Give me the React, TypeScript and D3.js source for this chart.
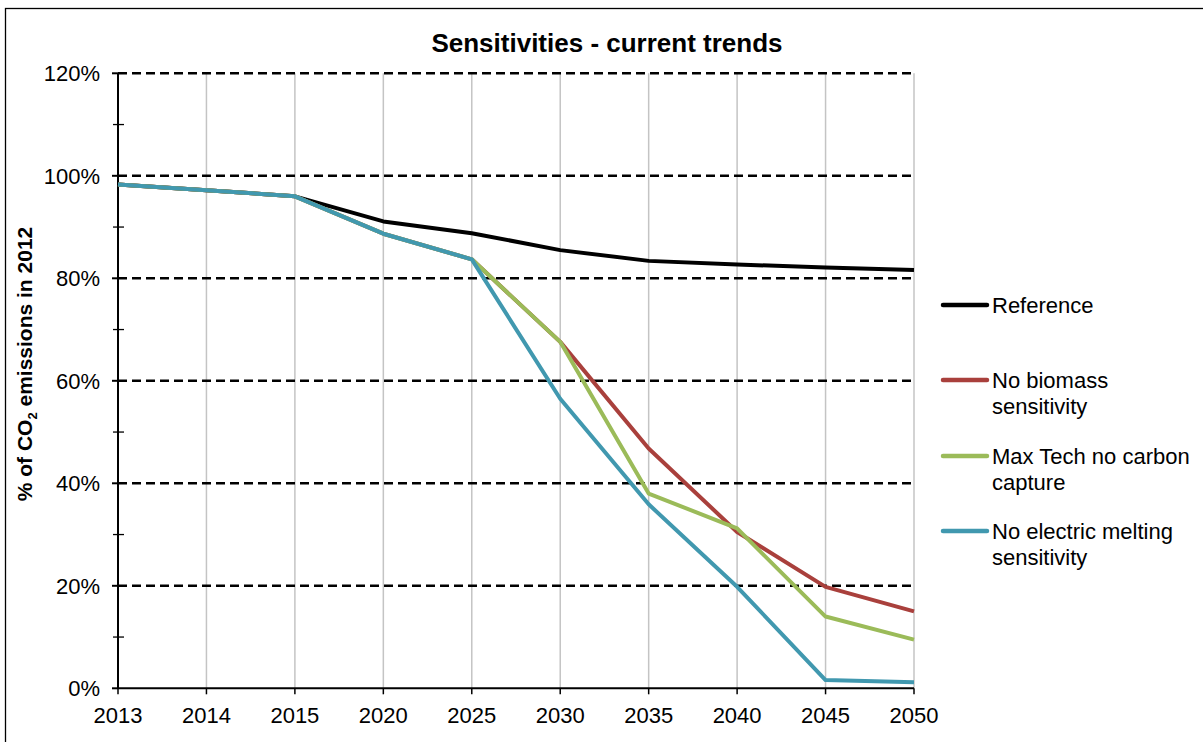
import React from "react";
import * as d3 from "d3";

const categories = ["2013", "2014", "2015", "2020", "2025", "2030", "2035", "2040", "2045", "2050"];
const referenceValues = [98.3, 97.2, 96.0, 91.1, 88.8, 85.5, 83.4, 82.7, 82.1, 81.6];
const noBiomassValues = [98.3, 97.2, 96.0, 88.7, 83.7, 67.6, 46.8, 30.5, 19.8, 15.0];
const maxTechValues = [98.3, 97.2, 96.0, 88.7, 83.7, 67.6, 38.0, 31.2, 14.0, 9.5];
const noElectricValues = [98.3, 97.2, 96.0, 88.7, 83.7, 56.5, 35.9, 19.8, 1.6, 1.2];
const yTicks = [0, 20, 40, 60, 80, 100, 120];
const yMinorTicks = [10, 30, 50, 70, 90, 110];

const series = [
  { name: ["Reference"], values: referenceValues, color: "#000000" },
  { name: ["No biomass", "sensitivity"], values: noBiomassValues, color: "#A9403C" },
  { name: ["Max Tech no carbon", "capture"], values: maxTechValues, color: "#9BBB59" },
  { name: ["No electric melting", "sensitivity"], values: noElectricValues, color: "#4198AF" },
];

const legendY = [305, 380, 456, 531];

export default function App() {
  const W = 1203, H = 742;
  const left = 118, right = 914, top = 73.3, bottom = 688.3;
  const x = d3.scalePoint<string>().domain(categories).range([left, right]).padding(0);
  const y = d3.scaleLinear().domain([0, 120]).range([bottom, top]);
  const font = "Arial, 'Liberation Sans', sans-serif";

  const lineGen = d3
    .line<number>()
    .x((_, i) => x(categories[i]) as number)
    .y((d) => y(d));

  return (
    <svg
      width={W}
      height={H}
      style={{ position: "absolute", left: 0, top: 0, background: "#fff" }}
      fontFamily={font}
    >
      <rect x={0} y={0} width={W} height={H} fill="#fff" />
      <rect x={5.5} y={8.5} width={W + 20} height={H + 20} fill="none" stroke="#000" strokeWidth={1.3} />

      {/* vertical gridlines */}
      {categories.slice(1).map((c) => (
        <line key={"vg" + c} x1={x(c)} x2={x(c)} y1={top} y2={bottom} stroke="#c4c4c4" strokeWidth={1.5} />
      ))}

      {/* horizontal dashed gridlines */}
      {yTicks.slice(1).map((t) => (
        <line
          key={"hg" + t}
          x1={left}
          x2={right}
          y1={y(t)}
          y2={y(t)}
          stroke="#000"
          strokeWidth={2.5}
          strokeDasharray="9,5"
        />
      ))}

      {/* y axis */}
      <line x1={left} x2={left} y1={top} y2={bottom} stroke="#000" strokeWidth={2} />
      {yTicks.map((t) => (
        <g key={"yt" + t}>
          <line x1={left - 6} x2={left} y1={y(t)} y2={y(t)} stroke="#000" strokeWidth={2} />
          <text x={left - 18} y={y(t)} dy="0.35em" textAnchor="end" fontSize={22} fill="#000">
            {t}%
          </text>
        </g>
      ))}
      {yMinorTicks.map((t) => (
        <line key={"ym" + t} x1={left - 5} x2={left + 6} y1={y(t)} y2={y(t)} stroke="#000" strokeWidth={1.3} />
      ))}

      {/* x axis */}
      <line x1={left} x2={right} y1={bottom} y2={bottom} stroke="#000" strokeWidth={2} />
      {categories.map((c) => (
        <g key={"xt" + c}>
          <line x1={x(c)} x2={x(c)} y1={bottom} y2={bottom + 6} stroke="#000" strokeWidth={1.5} />
          <text x={x(c)} y={bottom + 35} textAnchor="middle" fontSize={22} fill="#000">
            {c}
          </text>
        </g>
      ))}

      {/* series lines */}
      {series.map((s) => (
        <path
          key={s.name.join(" ")}
          d={lineGen(s.values) || ""}
          fill="none"
          stroke={s.color}
          strokeWidth={4}
          strokeLinejoin="round"
        />
      ))}

      {/* title */}
      <text x={607} y={52} textAnchor="middle" fontSize={26} fontWeight="bold" fill="#000">
        Sensitivities - current trends
      </text>

      {/* y axis label */}
      <text
        transform={`translate(32, 364) rotate(-90)`}
        textAnchor="middle"
        fontSize={21}
        fontWeight="bold"
        fill="#000"
      >
        % of CO
        <tspan fontSize={13} dy={5}>2</tspan>
        <tspan dy={-5}> emissions in 2012</tspan>
      </text>

      {/* legend */}
      {series.map((s, i) => (
        <g key={"lg" + i}>
          <line x1={943} x2={987} y1={legendY[i]} y2={legendY[i]} stroke={s.color} strokeWidth={4.5} strokeLinecap="round" />
          {s.name.map((n, j) => (
            <text key={j} x={992} y={legendY[i] + j * 26} dy="0.35em" fontSize={22} fill="#000">
              {n}
            </text>
          ))}
        </g>
      ))}
    </svg>
  );
}
